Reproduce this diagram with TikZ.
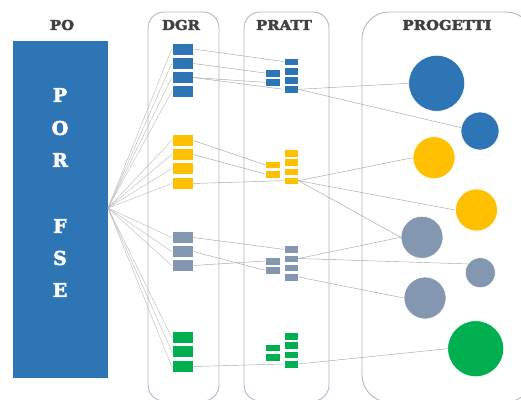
\documentclass[tikz,border=0pt]{standalone}
\usepackage{fontspec}
\usepackage{graphicx}
\newfontfamily\slab{DejaVu Serif Bold}[FakeBold=2.5]
\definecolor{cblue}{HTML}{2E75B6}
\definecolor{cyel}{HTML}{FFC000}
\definecolor{cgry}{HTML}{8497B0}
\definecolor{cgrn}{HTML}{00B050}
\definecolor{cpanel}{HTML}{ADB9CA}
\definecolor{ctxt}{HTML}{404040}
\definecolor{cline}{HTML}{A6A6A6}
\tikzset{
  panel/.style={draw=cpanel, line width=0.9pt},
  dbox/.style={rectangle, draw=white, line width=0.5pt, minimum width=21pt, minimum height=12pt, inner sep=0pt},
  pbox/.style={rectangle, draw=white, line width=0.4pt, minimum width=14.5pt, minimum height=7.5pt, inner sep=0pt},
  proj/.style={circle, draw=white, line width=0.6pt, inner sep=0pt},
  head/.style={font=\slab\fontsize{13.5}{15}\selectfont, text=ctxt, inner sep=0pt},
  big/.style={font=\slab\fontsize{19}{21}\selectfont, text=white, inner sep=0pt},
  link/.style={draw=cline, line width=0.45pt},
  fan/.style={draw=cline!80, line width=0.4pt}
}
\begin{document}
\begin{tikzpicture}[x=1pt,y=-1pt]
\useasboundingbox (0,0) rectangle (521,399);
\clip (0,0) rectangle (521,399);
% panels
\draw[panel, rounded corners=16pt] (148,12) rectangle (219,401);
\draw[panel, rounded corners=16pt] (244,12) rectangle (329,401);
\draw[panel, rounded corners=27pt] (362,12) rectangle (533,402);
% headers
\node[head] (hpo) at (62,25) {\scalebox{1.1}[1]{PO}};
\node[head] (hdgr) at (181,25) {\scalebox{1.1}[1]{DGR}};
\node[head] (hpratt) at (284,25) {\scalebox{1.1}[1]{PRATT}};
\node[head] (hprog) at (447,25) {\scalebox{1.1}[1]{PROGETTI}};
% PO block
\node[rectangle, fill=cblue, minimum width=95pt, minimum height=337pt, inner sep=0pt] (po) at (60.5,209.5) {};
\node[big] (lp) at (60,95) {P};
\node[big] (lo) at (60,128) {O};
\node[big] (lr) at (60,160) {R};
\node[big] (lf) at (60,226) {F};
\node[big] (ls) at (60,258) {S};
\node[big] (le) at (60,290) {E};
\coordinate (fo) at (108,208);
% DGR boxes
\foreach \n/\y in {1/49,2/63.5,3/77.5,4/91.5} \node[dbox, fill=cblue] (db\n) at (182.5,\y) {};
\foreach \n/\y in {1/140.5,2/154.5,3/168.5,4/183.5} \node[dbox, fill=cyel] (dy\n) at (182.5,\y) {};
\foreach \n/\y in {1/237.5,2/251.5,3/265.5} \node[dbox, fill=cgry] (dg\n) at (182.5,\y) {};
\foreach \n/\y in {1/337.5,2/351.5,3/366.5} \node[dbox, fill=cgrn] (dn\n) at (182.5,\y) {};
% PRATT boxes right column
\foreach \n/\y in {1/61.5,2/71,3/80,4/89.3} \node[pbox, fill=cblue] (pbr\n) at (291,\y) {};
\foreach \n/\y in {1/153,2/162.3,3/171.7,4/180.7} \node[pbox, fill=cyel] (pyr\n) at (291,\y) {};
\foreach \n/\y in {1/249.3,2/258.5,3/267.8,4/277} \node[pbox, fill=cgry] (pgr\n) at (291,\y) {};
\foreach \n/\y in {1/336,2/345.3,3/354.7,4/364} \node[pbox, fill=cgrn] (pnr\n) at (291,\y) {};
% PRATT boxes left column
\foreach \n/\y in {1/73,2/82.3} \node[pbox, fill=cblue] (pbl\n) at (272.5,\y) {};
\foreach \n/\y in {1/164.8,2/174} \node[pbox, fill=cyel] (pyl\n) at (272.5,\y) {};
\foreach \n/\y in {1/261,2/270.3} \node[pbox, fill=cgry] (pgl\n) at (272.5,\y) {};
\foreach \n/\y in {1/347.7,2/357} \node[pbox, fill=cgrn] (pnl\n) at (272.5,\y) {};
% projects
\node[proj, fill=cblue, minimum size=56pt] (cb1) at (436.7,83.3) {};
\node[proj, fill=cblue, minimum size=38pt] (cb2) at (480,131) {};
\node[proj, fill=cyel, minimum size=42pt] (cy1) at (434,157.7) {};
\node[proj, fill=cyel, minimum size=42pt] (cy2) at (476.5,210) {};
\node[proj, fill=cgry, minimum size=42pt] (cg1) at (422,237.3) {};
\node[proj, fill=cgry, minimum size=30pt] (cg2) at (480.3,272.7) {};
\node[proj, fill=cgry, minimum size=42pt] (cg3) at (425,298) {};
\node[proj, fill=cgrn, minimum size=56pt] (cn1) at (475.7,348.7) {};
% fan
\foreach \b in {db1,db2,db3,db4,dy1,dy2,dy3,dy4,dg1,dg2,dg3,dn1,dn2,dn3}
  \draw[fan] (fo) -- (\b.west);
% DGR -> PRATT
\draw[link] (db1.east) -- (pbr1.west);
\draw[link] (db2.east) -- (pbl1.west);
\draw[link] (db3.east) -- (pbl2.west);
\draw[link] (db3.east) -- (pbr4.west);
\draw[link] (dy1.east) -- (pyl1.west);
\draw[link] (dy2.east) -- (pyl2.west);
\draw[link] (dy4.east) -- (pyr4.west);
\draw[link] (dg1.east) -- (pgr1.west);
\draw[link] (dg2.east) -- (pgl2.west);
\draw[link] (dg3.east) -- (pgl1.west);
\draw[link] (dn3.east) -- (pnr4.west);
% PRATT -> projects
\draw[link] (pbr4.east) -- (cb1.west);
\draw[link] (pbr4.east) -- (cb2.170);
\draw[link] (pyr4.east) -- (cy1.west);
\draw[link] (pyr4.east) -- (cy2.west);
\draw[link] (pyr4.east) -- (cg1.west);
\draw[link] (pgr2.east) -- (cg1.west);
\draw[link] (pgr2.east) -- (cg2.145);
\draw[link] (pgr4.east) -- (cg3.west);
\draw[link] (pnr4.east) -- (cn1.west);
\end{tikzpicture}
\end{document}
